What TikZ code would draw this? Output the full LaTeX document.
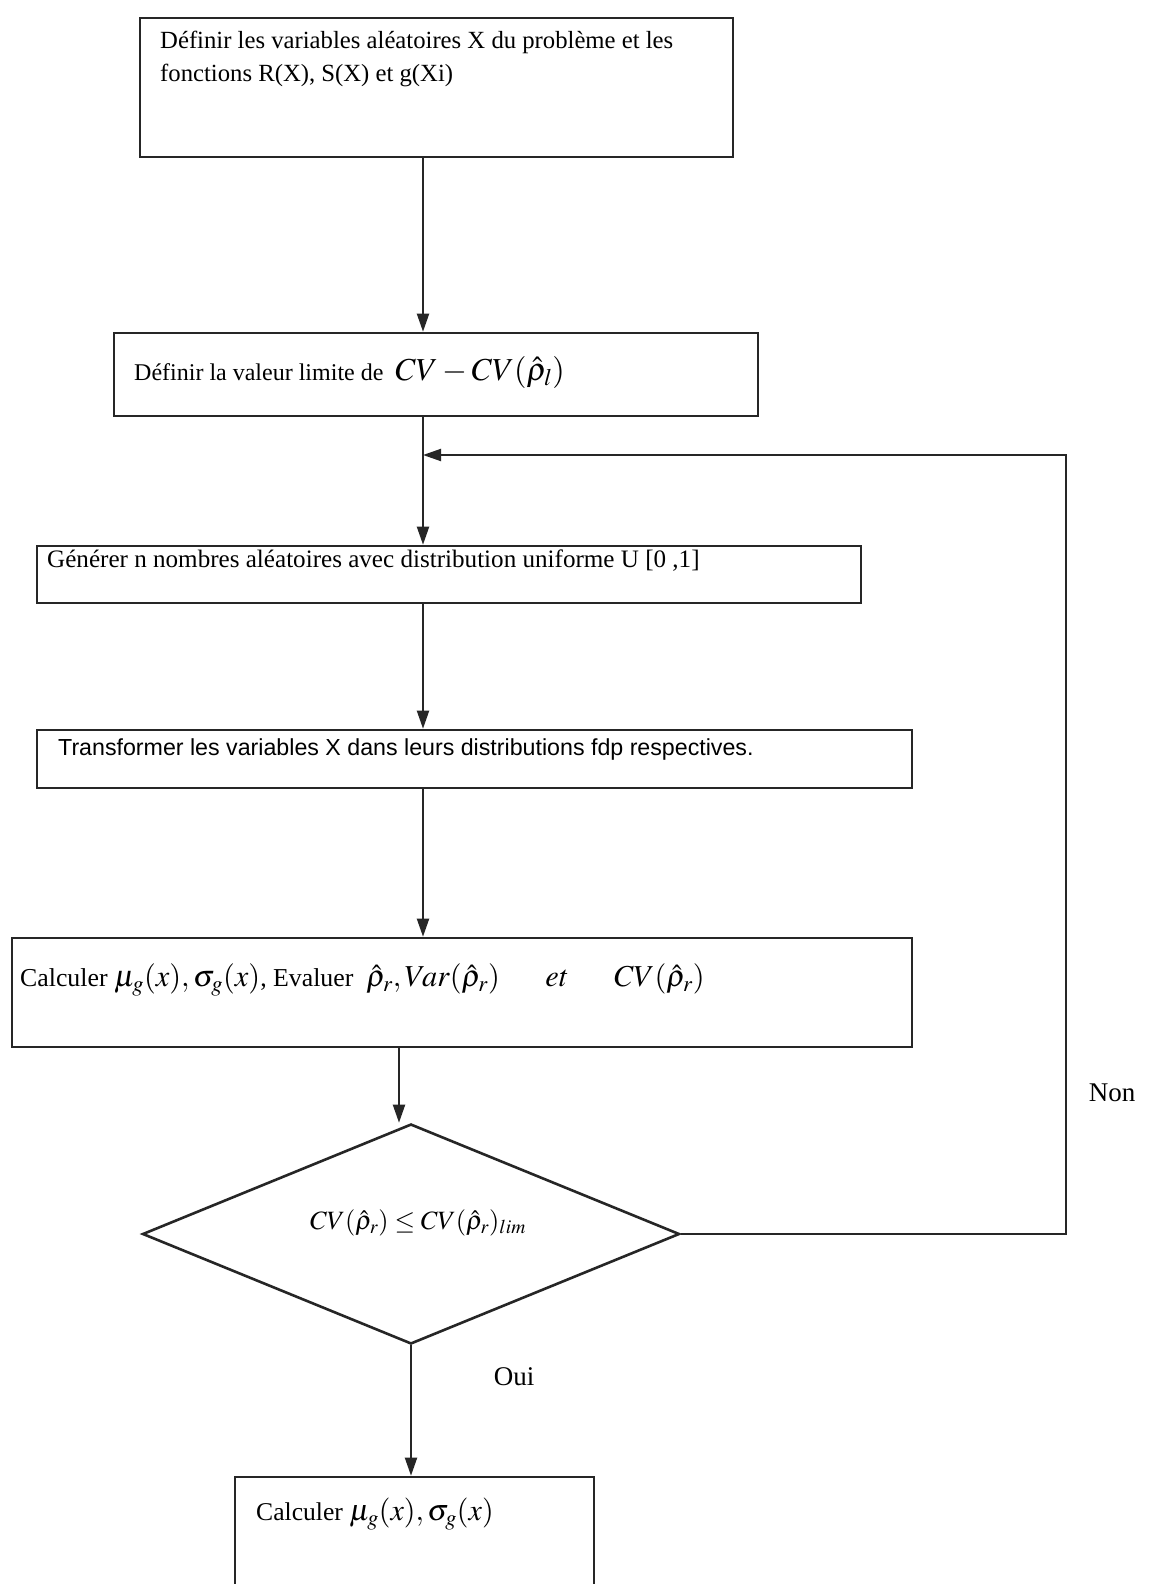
\documentclass[tikz,border=0pt]{standalone}
\usepackage{mathptmx}
\usepackage{fontspec}
\setmainfont{Liberation Serif}
\newfontfamily\sansf{Liberation Sans}
\usetikzlibrary{shapes.geometric,arrows.meta}
\begin{document}
\begin{tikzpicture}[x=1pt,y=-1pt,
  boxstyle/.style={draw=black!85,line width=2.6pt,inner sep=0pt},
  arr/.style={draw=black!85,line width=2pt,-{Triangle[length=18pt,width=12pt]}},
  txt/.style={anchor=west,inner sep=0pt,font=\fontsize{24.7}{33}\selectfont},
  lab/.style={inner sep=0pt,font=\fontsize{27}{30}\selectfont}]
\useasboundingbox (0,0) rectangle (1148,1584);
\fill[white] (0,0) rectangle (1148,1584);
% boxes
\node[boxstyle,minimum width=593pt,minimum height=139pt] (b1) at (436.5,87.5) {};
\node[boxstyle,minimum width=644pt,minimum height=83pt] (b2) at (436,374.5) {};
\node[boxstyle,minimum width=824pt,minimum height=57pt] (b3) at (449,574.5) {};
\node[boxstyle,minimum width=875pt,minimum height=58pt] (b4) at (474.5,759) {};
\node[boxstyle,minimum width=900pt,minimum height=109pt] (b5) at (462,992.5) {};
\node[boxstyle,draw,shape=diamond,minimum width=537pt,minimum height=220pt] (d) at (411,1234) {};
\node[boxstyle,minimum width=359pt,minimum height=118pt] (b6) at (414.5,1536) {};
% texts
\node[txt,align=left,anchor=north west] (t1) at (160,31) {D\'efinir les variables al\'eatoires X du probl\`eme et les\\fonctions R(X), S(X) et g(Xi)};
\node[txt,font=\fontsize{24}{30}\selectfont] (t2) at (134,372) {D\'efinir la valeur limite de \ {\fontsize{32}{32}\selectfont$CV-CV(\hat{\rho}_{l})$}};
\node[txt,font=\fontsize{25.1}{30}\selectfont] (t3) at (47,561) {G\'en\'erer n nombres al\'eatoires avec distribution uniforme U [0 ,1]};
\node[txt,font=\sansf\fontsize{23.2}{26}\selectfont] (t4) at (58,749) {Transformer les variables X dans leurs distributions fdp respectives.};
\node[txt,font=\fontsize{25.8}{30}\selectfont] (t5) at (20,980) {Calculer {\fontsize{30.4}{30}\selectfont$\mu_{g}(x),\sigma_{g}(x)$}, Evaluer\ \ {\fontsize{30.4}{30}\selectfont$\hat{\rho}_{r},Var(\hat{\rho}_{r})\quad\ \ et\quad\ \ CV(\hat{\rho}_{r})$}};
\node[inner sep=0pt,font=\fontsize{26.4}{28}\selectfont] (t6) at (418,1223) {$CV(\hat{\rho}_{r})\le CV(\hat{\rho}_{r})_{lim}$};
\node[txt,font=\fontsize{25.6}{30}\selectfont] (t7) at (256,1514) {Calculer {\fontsize{30}{30}\selectfont$\mu_{g}(x),\sigma_{g}(x)$}};
\node[lab] (oui) at (514,1377) {Oui};
\node[lab] (non) at (1112,1093) {Non};
% connectors
\coordinate (c1) at (1066,455);
\coordinate (j) at (423,455);
\draw[arr] (b1.south -| j) -- (b2.north -| j);
\draw[arr] (b2.south -| j) -- (b3.north -| j);
\draw[arr] (b3.south -| j) -- (b4.north -| j);
\draw[arr] (b4.south -| j) -- (b5.north -| j);
\draw[arr] ([xshift=-12pt]d.north |- b5.south) -- ([xshift=-12pt]d.north);
\draw[arr] (d.south) -- (b6.north -| d.south);
\draw[arr] (d.east) -| (c1) -- (j);
\end{tikzpicture}
\end{document}
